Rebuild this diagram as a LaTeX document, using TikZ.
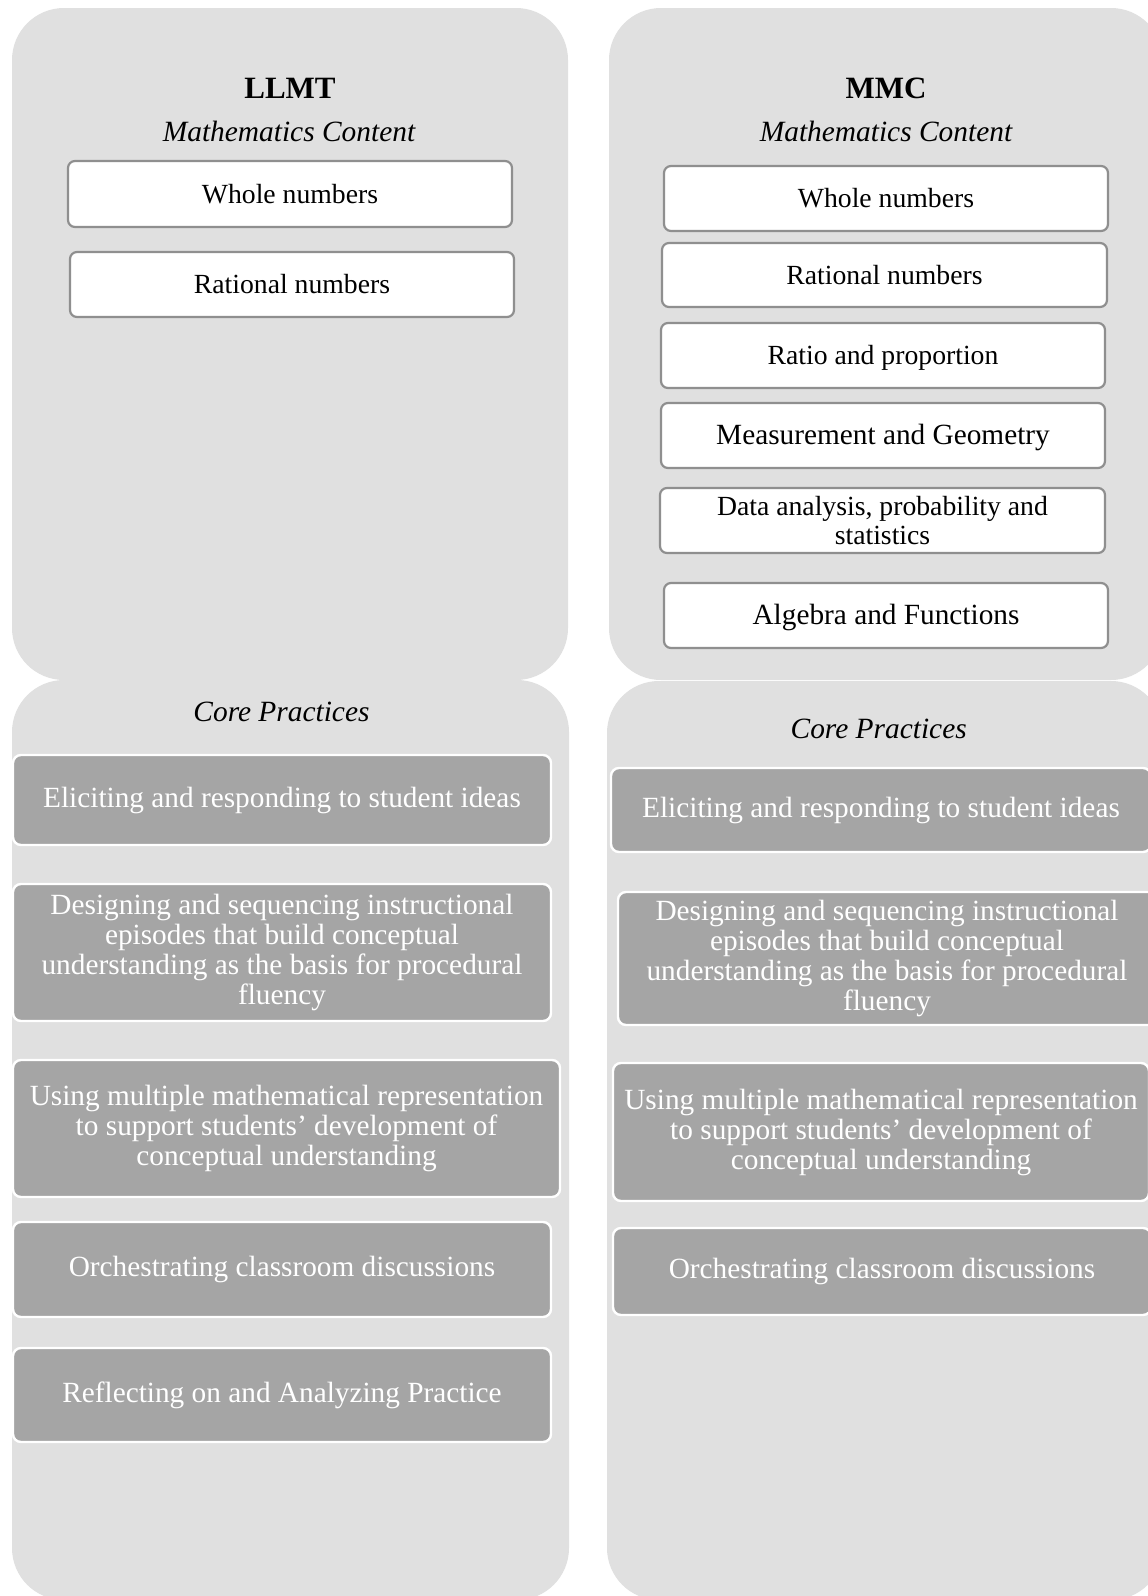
\documentclass[tikz,border=0pt]{standalone}
\usepackage{fontspec}
\setmainfont{Liberation Serif}
\definecolor{panelgray}{HTML}{E0E0E0}
\definecolor{coregray}{HTML}{A5A5A5}
\definecolor{boxgray}{HTML}{8F8F8F}
\begin{document}
\begin{tikzpicture}[x=1pt,y=-1pt,
  panel/.style={fill=panelgray, rounded corners=52pt},
  contentbox/.style={draw=boxgray, line width=2.2pt, fill=white, rounded corners=7pt, inner sep=0pt, align=center, font=\fontsize{27.7}{28.5}\selectfont},
  bigger/.style={font=\fontsize{29.3}{30}\selectfont},
  onel/.style={text height=18.5pt, text depth=0pt},
  corebox/.style={draw=white, line width=2.4pt, fill=coregray, rounded corners=8pt, inner sep=0pt, align=center, text=white, font=\fontsize{29.3}{30}\selectfont},
  titletext/.style={anchor=base, inner sep=0pt, font=\fontsize{31}{31}\selectfont\bfseries},
  headtext/.style={anchor=base, inner sep=0pt, font=\fontsize{29.4}{30}\selectfont\itshape}]
\useasboundingbox (0,0) rectangle (1148,1596);
\fill[white] (0,0) rectangle (1148,1596);
% panels
\fill[panel] (12,8) rectangle (568,680);
\fill[panel] (609,8) rectangle (1163,680);
\fill[panel] (12,680) rectangle (569,1600);
\fill[panel] (607,681) rectangle (1163,1600);
% titles
\node[titletext] (llmt) at (290,98) {LLMT};
\node[titletext] (mmc) at (886,98) {MMC};
\node[headtext] (mcl) at (289,141.7) {Mathematics Content};
\node[headtext] (mcr) at (886,141.7) {Mathematics Content};
\node[headtext] (cpl) at (281.5,721) {Core Practices};
\node[headtext] (cpr) at (878.7,738) {Core Practices};
% left content
\node[contentbox, onel, minimum width=444pt, minimum height=66pt] (lwhole) at (290,194) {Whole numbers};
\node[contentbox, onel, minimum width=444pt, minimum height=65pt] (lrat) at (292,284.5) {Rational numbers};
% right content
\node[contentbox, onel, minimum width=444pt, minimum height=65pt] (rwhole) at (886,198.5) {Whole numbers};
\node[contentbox, onel, minimum width=445pt, minimum height=64pt] (rrat) at (884.5,275) {Rational numbers};
\node[contentbox, onel, minimum width=444pt, minimum height=65pt] (rratio) at (883,355.5) {Ratio and proportion};
\node[contentbox, bigger, onel, minimum width=444pt, minimum height=65pt] (rmeas) at (883,435.5) {Measurement and Geometry};
\node[contentbox, minimum width=445pt, minimum height=65pt] (rdata) at (882.5,520.5) {Data analysis, probability and\\statistics};
\node[contentbox, bigger, onel, minimum width=444pt, minimum height=65pt] (ralg) at (886,615.5) {Algebra and Functions};
% left core practices
\node[corebox, minimum width=538pt, minimum height=90pt] (lelic) at (282,800) {Eliciting and responding to student ideas};
\node[corebox, minimum width=538pt, minimum height=137pt] (ldes) at (282,952.5) {Designing and sequencing instructional\\episodes that build conceptual\\understanding as the basis for procedural\\fluency};
\node[corebox, minimum width=547pt, minimum height=137pt] (luse) at (286.5,1128.5) {Using multiple mathematical representation\\to support students’ development of\\conceptual understanding};
\node[corebox, minimum width=538pt, minimum height=95pt] (lorch) at (282,1269.5) {Orchestrating classroom discussions};
\node[corebox, minimum width=538pt, minimum height=94pt] (lrefl) at (282,1395) {Reflecting on and Analyzing Practice};
% right core practices
\node[corebox, minimum width=540pt, minimum height=84pt] (relic) at (881,810) {Eliciting and responding to student ideas};
\node[corebox, minimum width=538pt, minimum height=133pt] (rdes) at (887,958.5) {Designing and sequencing instructional\\episodes that build conceptual\\understanding as the basis for procedural\\fluency};
\node[corebox, minimum width=536pt, minimum height=138pt] (ruse) at (881,1132) {Using multiple mathematical representation\\to support students’ development of\\conceptual understanding};
\node[corebox, minimum width=538pt, minimum height=87pt] (rorch) at (882,1271.5) {Orchestrating classroom discussions};
\end{tikzpicture}
\end{document}
